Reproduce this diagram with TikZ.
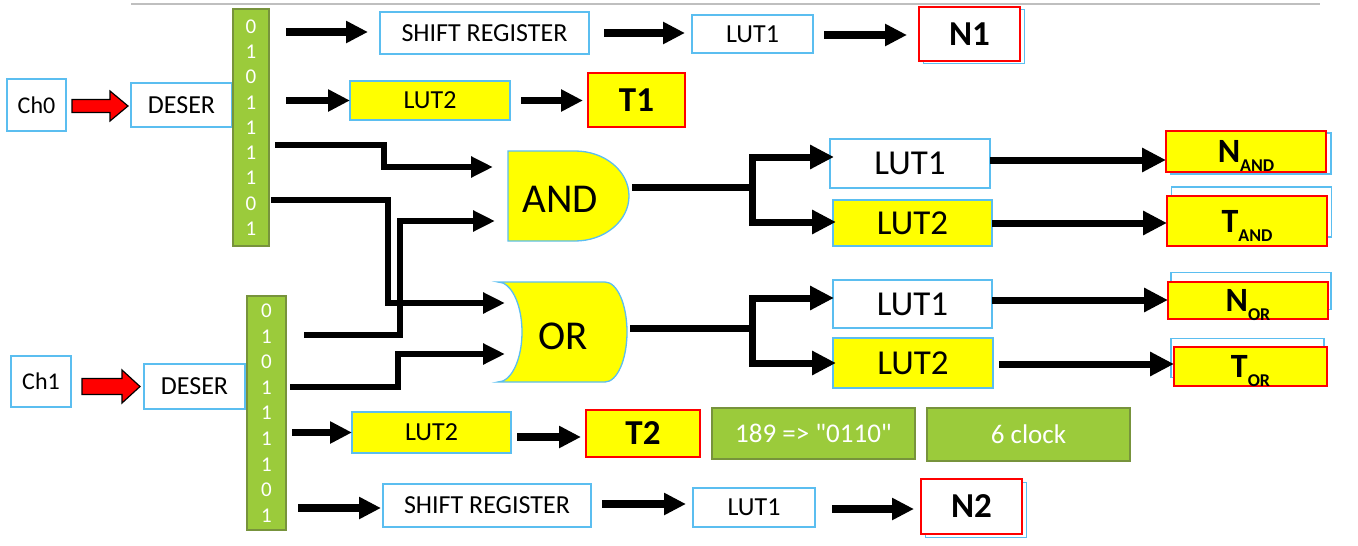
\documentclass[tikz,border=0pt]{standalone}
\usepackage{fontspec}
\setmainfont{Carlito}
\usetikzlibrary{arrows.meta,backgrounds}

\definecolor{bluebd}{RGB}{91,190,240}
\definecolor{redbd}{RGB}{255,0,0}
\definecolor{ylw}{RGB}{255,255,0}
\definecolor{grn}{RGB}{155,203,59}
\definecolor{grnbd}{RGB}{119,147,60}
\definecolor{rulegray}{RGB}{191,191,191}

\newcommand\pxfont[1]{\fontsize{#1}{#1}\selectfont}
\newcommand\lowtxt[1]{\raisebox{-9pt}{\pxfont{18}#1}}
% straight double quote, set as a glyph so the text mapping leaves it alone
\newcommand\straightquote{\XeTeXglyph\XeTeXcharglyph"22\relax}

\tikzset{
  every node/.style={inner sep=0pt, outer sep=0pt},
  box/.style={rectangle, draw=bluebd, line width=1.6pt, fill=white},
  lbox/.style={box, fill=ylw},
  rbox/.style={rectangle, draw=redbd, line width=1.6pt, fill=white, font=\pxfont{35}\bfseries},
  yrbox/.style={rbox, fill=ylw},
  rubric/.style={text height=24pt, text depth=2pt, font=\pxfont{34}\bfseries},
  bits/.style={rectangle, fill=grn, draw=grnbd, line width=1.5pt, text=white, align=center},
  note/.style={rectangle, fill=grn, draw=grnbd, line width=1.5pt, text=white, font=\pxfont{27}},
  gatebody/.style={fill=ylw, draw=bluebd, line width=1.3pt},
  gatelabel/.style={font=\pxfont{41}},
  copybox/.style={draw=bluebd, line width=1.6pt, fill=white},
  arr/.style={line width=7.5pt, -{Triangle[length=22pt,width=21pt]}},
  wire/.style={line width=5.5pt, -{Triangle[length=22pt,width=20pt]}},
  fat/.style={line width=7pt, -{Triangle[length=24pt,width=23pt]}},
  blockarrow/.style={fill=red, draw=black, line width=1.2pt, line join=miter},
}

\begin{document}
\begin{tikzpicture}[x=1pt,y=-1pt]
\useasboundingbox (0,0) rectangle (1358,546);

% rule along the top
\draw[rulegray, line width=2pt] (131,4) -- (1320,4);

% ---- channel 0 ----
\node[box, minimum width=59pt, minimum height=52pt, font=\pxfont{24}] (ch0) at (36.5,105) {Ch0};
\node[box, minimum width=101pt, minimum height=44pt, font=\pxfont{26}] (deser0) at (181.5,105) {DESER};
\node[bits, minimum width=36pt, minimum height=237pt, font=\fontsize{21}{25.3}\selectfont] (bits0) at (251,127.5)
  {0\\1\\0\\1\\1\\1\\1\\0\\1};
\node[box, minimum width=209pt, minimum height=42pt, font=\pxfont{26}] (sr0) at (484.5,33) {SHIFT REGISTER};
\node[box, minimum width=121pt, minimum height=38pt, font=\pxfont{26}] (luta0) at (752.5,34) {LUT1};
\node[rbox, minimum width=101pt, minimum height=54pt] (n1) at (969.5,34) {N1};
\node[lbox, minimum width=160pt, minimum height=39pt, font=\pxfont{26}] (lutb0) at (430,100.5) {LUT2};
\node[yrbox, minimum width=97pt, minimum height=54pt] (t1) at (636.5,100) {T1};

% ---- channel 1 ----
\node[box, minimum width=60pt, minimum height=51pt, font=\pxfont{24}] (ch1) at (41,381.5) {Ch1};
\node[box, minimum width=101pt, minimum height=45pt, font=\pxfont{26}] (deser1) at (194.5,386.5) {DESER};
\node[bits, minimum width=39pt, minimum height=234pt, font=\fontsize{21}{25.6}\selectfont] (bits1) at (266.5,413)
  {0\\1\\0\\1\\1\\1\\1\\0\\1};
\node[lbox, minimum width=159pt, minimum height=41pt, font=\pxfont{26}] (lutb1) at (431.5,432.5) {LUT2};
\node[yrbox, minimum width=114pt, minimum height=47pt] (t2) at (643,433.5) {T2};
\node[box, minimum width=208pt, minimum height=43pt, font=\pxfont{26}] (sr1) at (487,505.5) {SHIFT REGISTER};
\node[box, minimum width=122pt, minimum height=39pt, font=\pxfont{26}] (luta1) at (754,507.5) {LUT1};
\node[rbox, minimum width=101pt, minimum height=55pt] (n2) at (971.5,506.5) {N2};
\node[note, minimum width=203pt, minimum height=51pt] (note1) at (813.5,433.5) {189 => \straightquote0110\straightquote};
\node[note, minimum width=203pt, minimum height=53pt] (note2) at (1028.5,434.5) {6 clock};

% ---- gates ----
\node[gatelabel] (andg) at (560,199.5) {AND};
\node[gatelabel] (org) at (563,336) {OR};

% ---- combined outputs ----
\node[box, minimum width=160pt, minimum height=49pt, font=\pxfont{35}] (andlut1) at (910,163.5) {LUT1};
\node[lbox, minimum width=159pt, minimum height=46pt, font=\pxfont{35}] (andlut2) at (912.5,223) {LUT2};
\node[box, minimum width=159pt, minimum height=48pt, font=\pxfont{35}] (orlut1) at (912.5,304) {LUT1};
\node[lbox, minimum width=160pt, minimum height=50pt, font=\pxfont{35}] (orlut2) at (913,363) {LUT2};
\node[yrbox, rubric, minimum width=160pt, minimum height=41pt] (nand) at (1246,151.5) {N\lowtxt{AND}};
\node[yrbox, rubric, minimum width=160pt, minimum height=50pt] (tand) at (1247,221) {T\lowtxt{AND}};
\node[yrbox, rubric, minimum width=160pt, minimum height=37pt] (nor) at (1248,300.5) {N\lowtxt{OR}};
\node[yrbox, rubric, minimum width=153pt, minimum height=39pt] (tor) at (1250.5,366.5) {T\lowtxt{OR}};

\begin{scope}[on background layer]
  % gate bodies
  \draw[gatebody] ([xshift=-52pt,yshift=48.5pt]andg.center) -- ++(67,0)
    arc[start angle=90, end angle=-90, x radius=54pt, y radius=45pt] -- ++(-67,0) -- cycle;
  \draw[gatebody] ([xshift=-65pt,yshift=54pt]org.center) -- ++(107,0)
    arc[start angle=90, end angle=-90, x radius=22pt, y radius=50pt] -- ++(-107,0)
    arc[start angle=-90, end angle=90, x radius=24pt, y radius=50pt] -- cycle;
  % offset copies behind the result boxes
  \foreach \nd/\dx/\dy in {n1/4.5/-2.5, n2/4.5/-3.5, nand/5/-2, tand/4.5/9, nor/3/9.5, tor/-3/8.5}
    \draw[copybox] ([shift={(\dx pt,\dy pt)}]\nd.north west) rectangle ([shift={(\dx pt,\dy pt)}]\nd.south east);
\end{scope}

% ---- red input arrows ----
\draw[blockarrow] ([xshift=6pt,yshift=5.5pt]ch0.east) -- ++(38,0) -- ++(0,-8.5) -- ++(18,15)
  -- ++(-18,15) -- ++(0,-8.5) -- ++(-38,0) -- cycle;
\draw[blockarrow] ([xshift=11pt,yshift=3pt]ch1.east) -- ++(40,0) -- ++(0,-8.5) -- ++(18,16.5)
  -- ++(-18,16.5) -- ++(0,-8.5) -- ++(-40,0) -- cycle;

% ---- channel 0 paths ----
\draw[arr] ([xshift=17pt,yshift=1pt]bits0.east |- sr0.west) -- ([xshift=-12pt,yshift=1pt]sr0.west);
\draw[arr] ([xshift=15pt]sr0.east) -- ([xshift=-7pt]sr0.east -| luta0.west);
\draw[arr] ([xshift=11pt,yshift=-1pt]luta0.east) -- ([xshift=-12pt,yshift=-1pt]luta0.east -| n1.west);
\draw[arr] ([xshift=17pt]bits0.east |- lutb0.west) -- (lutb0.west);
\draw[arr] ([xshift=11pt]lutb0.east) -- ([xshift=-5pt]lutb0.east -| t1.west);

% ---- channel 1 paths ----
\draw[arr] ([xshift=6pt]bits1.east |- lutb1.west) -- (lutb1.west);
\draw[arr] ([xshift=6pt,yshift=-4.5pt]lutb1.east) -- ([xshift=-5pt,yshift=-4.5pt]lutb1.east -| t2.west);
\draw[arr] ([xshift=12pt,yshift=-2.5pt]bits1.east |- sr1.west) -- ([xshift=-2pt,yshift=-2.5pt]sr1.west);
\draw[arr] ([xshift=11pt,yshift=1.5pt]sr1.east) -- ([xshift=-7pt,yshift=1.5pt]sr1.east -| luta1.west);
\draw[arr] ([xshift=17pt,yshift=-1.5pt]luta1.east) -- ([xshift=-7pt,yshift=-1.5pt]luta1.east -| n2.west);

% ---- gate inputs ----
\draw[wire] ([xshift=6pt,yshift=-17.5pt]bits0.east) -- ++(109,0) |- ([xshift=-67pt,yshift=32.5pt]andg.center);
\draw[wire] ([xshift=2pt,yshift=-72.5pt]bits0.east) -- ++(117,0) |- ([xshift=-58pt,yshift=33pt]org.center);
\draw[wire] ([xshift=18pt,yshift=78pt]bits1.east) -- ++(96,0) |- ([xshift=-65pt,yshift=-21.5pt]andg.center);
\draw[wire] ([xshift=4pt,yshift=26pt]bits1.east) -- ++(108,0) |- ([xshift=-58pt,yshift=-18pt]org.center);

% ---- gate outputs ----
\draw[fat] ([xshift=72pt,yshift=12.5pt]andg.center) -- ++(120,0) |- ([xshift=4pt,yshift=6.5pt]andlut1.west);
\draw[fat] ([xshift=72pt,yshift=12.5pt]andg.center) -- ++(120,0) |- ([xshift=3pt,yshift=1pt]andlut2.west);
\draw[fat] ([xshift=67pt,yshift=8pt]org.center) -- ++(122,0) |- ([xshift=1pt,yshift=6pt]orlut1.west);
\draw[fat] ([xshift=67pt,yshift=8pt]org.center) -- ++(122,0) |- ([xshift=3pt]orlut2.west);

\draw[fat] ([yshift=3.5pt]andlut1.east) -- ([yshift=3.5pt]andlut1.east -| nand.west);
\draw[fat] (andlut2.east) -- (andlut2.east -| tand.west);
\draw[fat] ([yshift=4pt]orlut1.east) -- ([yshift=4pt]orlut1.east -| nor.west);
\draw[fat] ([xshift=6pt,yshift=-1pt]orlut2.east) -- ([yshift=-1pt]orlut2.east -| tor.west);

\end{tikzpicture}
\end{document}
